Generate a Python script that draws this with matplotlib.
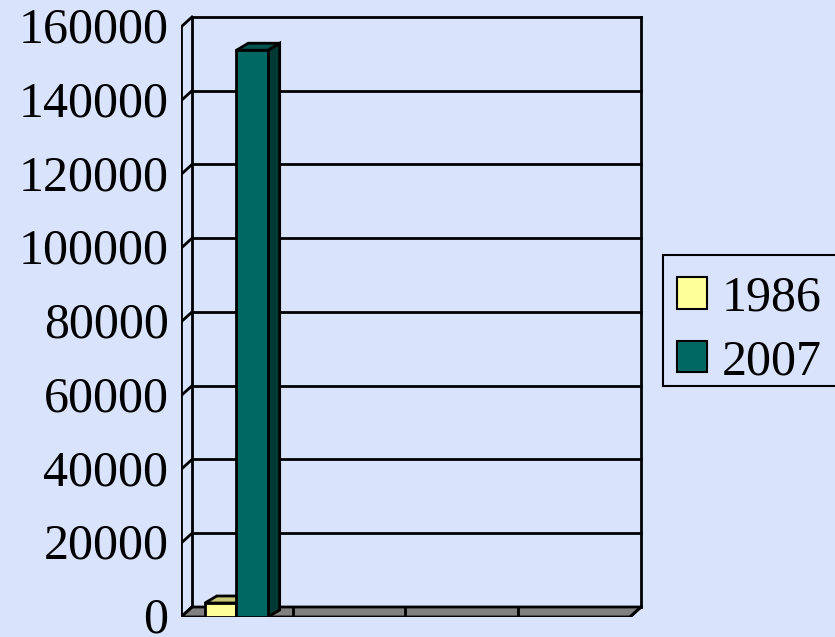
import matplotlib
matplotlib.use("Agg")
import matplotlib.pyplot as plt
from matplotlib.patches import Polygon, Patch, Rectangle
from matplotlib.transforms import ScaledTranslation

# data
series = ["1986", "2007"]
values = [3800, 153700]
n_categories = 4
yticks = [0, 20000, 40000, 60000, 80000, 100000, 120000, 140000, 160000]

front_colors = ["#FFFF99", "#006862"]
top_colors = ["#C8C878", "#00524D"]
side_colors = ["#B0B060", "#003834"]

plt.rcParams['font.family'] = ['Liberation Serif', 'DejaVu Serif']
bg = "#D9E4FC"

fig = plt.figure(figsize=(8.35, 6.37), dpi=100, facecolor=bg)
ax = fig.add_axes([181 / 835, 20 / 637, (643 - 181) / 835, (617 - 15) / 637])
ax.set_facecolor("none")
ax.set_xlim(0, 4.116)
ax.set_ylim(0, 163254)
ax.set_frame_on(False)

# depth offsets (wall / floor, then bars)
dx, dy = 0.098, 2712
bdx, bdy = 0.105, 1900
ymax = yticks[-1]
lw = 2.0

# floor
ax.add_patch(Polygon([(0, 0), (n_categories, 0), (n_categories + dx, dy), (dx, dy)],
                     closed=True, facecolor="#808080", edgecolor="black", lw=lw, zorder=2))
for i in range(1, n_categories):
    ax.plot([i, i], [0, dy], color="black", lw=lw, zorder=3)

# back wall gridlines and frame
for v in yticks[1:]:
    ax.plot([dx, n_categories + dx], [v + dy, v + dy], color="black", lw=lw, zorder=1)
    ax.plot([0, dx], [v, v + dy], color="black", lw=lw, zorder=1)
ax.plot([dx, dx], [dy, ymax + dy], color="black", lw=lw, zorder=1)
ax.plot([n_categories + dx, n_categories + dx], [dy, ymax + dy], color="black", lw=lw, zorder=1)
ax.plot([n_categories + dx, n_categories], [dy, 0], color="black", lw=lw, zorder=3)
ax.plot([0, 0], [0, ymax], color="black", lw=lw, zorder=1)
ax.plot([0, dx], [0, dy], color="black", lw=lw, zorder=3)

# bars (first category only)
width = 0.28
starts = [0.214, 0.214 + width]
for x0, v, fc, tc, sc in zip(starts, values, front_colors, top_colors, side_colors):
    x1 = x0 + width
    ax.add_patch(Polygon([(x1, 0), (x1 + bdx, bdy), (x1 + bdx, v + bdy), (x1, v)],
                         closed=True, facecolor=sc, edgecolor="black", lw=lw, zorder=4))
    ax.add_patch(Polygon([(x0, v), (x1, v), (x1 + bdx, v + bdy), (x0 + bdx, v + bdy)],
                         closed=True, facecolor=tc, edgecolor="black", lw=lw, zorder=4))
    ax.bar(x0, v, width=width, align="edge", color=fc, edgecolor="black", lw=lw, zorder=5)

ax.set_xticks([])
ax.set_yticks(yticks)
ax.set_yticklabels([str(v) for v in yticks], fontsize=36, va="center")
ax.tick_params(axis="y", length=0, pad=9)
shift = ScaledTranslation(0, -2.5 / 72, fig.dpi_scale_trans)
for t in ax.get_yticklabels():
    t.set_transform(t.get_transform() + shift)

# legend box drawn separately, entries placed inside it
fig.patches.append(Rectangle((663 / 835, 1 - 386 / 637), 175 / 835, 131 / 637,
                             transform=fig.transFigure, facecolor=bg,
                             edgecolor="black", lw=1.5, zorder=0))
handles = [Patch(facecolor=c, edgecolor="black", lw=1.5) for c in front_colors]
leg = fig.legend(handles, series, loc="upper left", bbox_to_anchor=(677 / 835, 1 - 275 / 637),
                 fontsize=36, frameon=False, borderaxespad=0, borderpad=0,
                 handlelength=0.6, handleheight=0.6, handletextpad=0.3,
                 labelspacing=0.34)

fig.savefig("out.png", dpi=100, facecolor=bg)
